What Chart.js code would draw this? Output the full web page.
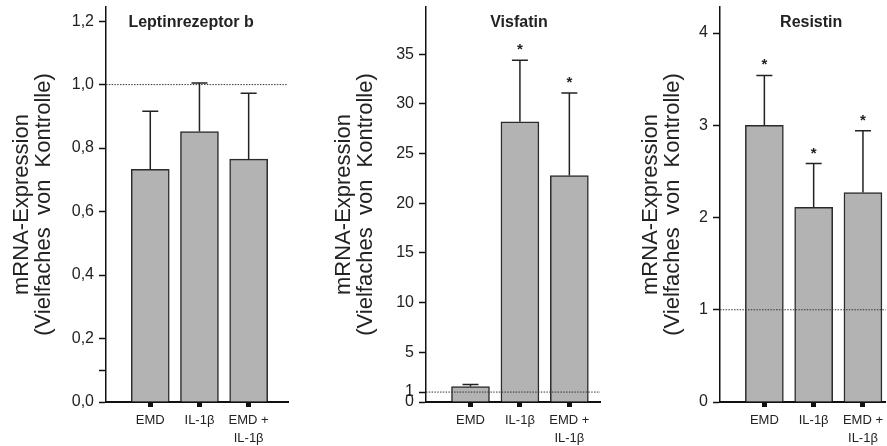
<!DOCTYPE html>
<html>
<head>
<meta charset="utf-8">
<script src="https://cdn.jsdelivr.net/npm/chart.js@4/dist/chart.umd.min.js"></script>
<style>
  html, body { margin: 0; padding: 0; background: #fff; }
  #wrap { position: relative; width: 887px; height: 446px; overflow: hidden; }
  canvas { position: absolute; top: 0; }
</style>
</head>
<body>
<div id="wrap">
  <canvas id="leptin" width="300" height="446" style="left:0px"></canvas>
  <canvas id="visfatin" width="288" height="446" style="left:322px"></canvas>
  <canvas id="resistin" width="258" height="446" style="left:629px"></canvas>
</div>
<script>
const FONT = "'Liberation Sans', Arial, sans-serif";

// x-Achse (gleich fuer alle drei Diagramme)
const categories = ["EMD", "IL-1β", ["EMD +", "IL-1β"]];
const yTitle = ["mRNA-Expression", "(Vielfaches  von  Kontrolle)"];

// Leptinrezeptor b
const leptinMeans = [0.733, 0.852, 0.765];
const leptinErrors = [0.183, 0.153, 0.208];
const leptinSig = [false, false, false];
const leptinTicks = [0, 0.1, 0.2, 0.4, 0.6, 0.8, 1.0, 1.2];
const leptinTickLabels = ["0,0", "", "0,2", "0,4", "0,6", "0,8", "1,0", "1,2"];

// Visfatin
const visfatinMeans = [1.55, 28.2, 22.8];
const visfatinErrors = [0.2, 6.2, 8.3];
const visfatinSig = [false, true, true];
const visfatinTicks = [0, 1, 5, 10, 15, 20, 25, 30, 35];
const visfatinTickLabels = ["0", "1", "5", "10", "15", "20", "25", "30", "35"];

// Resistin
const resistinMeans = [3.0, 2.11, 2.27];
const resistinErrors = [0.54, 0.475, 0.67];
const resistinSig = [true, true, true];
const resistinTicks = [0, 1, 2, 3, 4];
const resistinTickLabels = ["0", "1", "2", "3", "4"];

// Fehlerbalken, Sternchen, Kontroll-Linie und Titel
function panelPlugin(p) {
  return {
    id: "panelExtras",
    afterDatasetsDraw(chart) {
      const { ctx, chartArea, scales: { x, y } } = chart;
      ctx.save();

      // Kontrolle = 1
      const y1 = y.getPixelForValue(1);
      ctx.strokeStyle = "#333";
      ctx.lineWidth = 1;
      ctx.setLineDash([1.5, 1.3]);
      ctx.beginPath();
      ctx.moveTo(chartArea.left, y1);
      ctx.lineTo(chartArea.right, y1);
      ctx.stroke();
      ctx.setLineDash([]);

      ctx.strokeStyle = "#222";
      ctx.lineWidth = 1.5;
      ctx.fillStyle = "#222";
      ctx.font = "bold 15px " + FONT;
      ctx.textAlign = "center";
      ctx.textBaseline = "alphabetic";
      p.means.forEach((m, i) => {
        const px = x.getPixelForValue(i + 1);
        const base = y.getPixelForValue(m);
        const top = y.getPixelForValue(m + p.errors[i]);
        ctx.beginPath();
        ctx.moveTo(px, base);
        ctx.lineTo(px, top);
        ctx.moveTo(px - 8, top);
        ctx.lineTo(px + 8, top);
        ctx.stroke();
        if (p.sig[i]) ctx.fillText("*", px, top - 6);
      });

      ctx.font = "bold 16px " + FONT;
      ctx.textBaseline = "middle";
      ctx.fillText(p.title, x.getPixelForValue(p.titleX), chartArea.top + 16);
      ctx.restore();
    }
  };
}

function makePanel(id, p) {
  const ctx = document.getElementById(id).getContext("2d");
  return new Chart(ctx, {
    type: "bar",
    data: {
      datasets: [{
        data: p.means.map((m, i) => ({ x: i + 1, y: m })),
        backgroundColor: "#b3b3b3",
        borderColor: "#2b2b2b",
        borderWidth: 1.5,
        barThickness: 38
      }]
    },
    options: {
      responsive: false,
      animation: false,
      layout: { padding: { top: 7, right: p.padRight, left: 0, bottom: 0 } },
      plugins: {
        legend: { display: false },
        tooltip: { enabled: false }
      },
      scales: {
        x: {
          type: "linear",
          min: 0.1,
          max: p.xMax,
          offset: false,
          afterBuildTicks: s => { s.ticks = [1, 2, 3].map(v => ({ value: v })); },
          afterFit: s => { s.height = 44; },
          grid: {
            offset: false,
            drawOnChartArea: false,
            tickLength: 5,
            tickWidth: 5,
            tickColor: "#111"
          },
          border: { color: "#111", width: 2 },
          ticks: {
            autoSkip: false,
            maxRotation: 0,
            padding: 4,
            color: "#222",
            font: { family: FONT, size: 13, lineHeight: 1.4 },
            callback: v => categories[v - 1]
          }
        },
        y: {
          min: 0,
          max: p.yMax,
          afterBuildTicks: s => { s.ticks = p.ticks.map(v => ({ value: v })); },
          afterFit: s => {
            s.width = p.yWidth;
            s.paddingTop = 0;
            s.paddingBottom = 0;
          },
          grid: {
            drawOnChartArea: false,
            tickLength: 7,
            tickWidth: 1.5,
            tickColor: "#111"
          },
          border: { color: "#111", width: 1.5 },
          ticks: {
            autoSkip: false,
            padding: 5,
            color: "#222",
            font: { family: FONT, size: 16, lineHeight: 1 },
            callback: (v, i) => p.tickLabels[i]
          },
          title: {
            display: true,
            text: yTitle,
            color: "#222",
            font: { family: FONT, size: 22, lineHeight: 1 },
            padding: { top: 11, bottom: 0 }
          }
        }
      }
    },
    plugins: [panelPlugin(p)]
  });
}

makePanel("leptin", {
  means: leptinMeans, errors: leptinErrors, sig: leptinSig,
  ticks: leptinTicks, tickLabels: leptinTickLabels,
  title: "Leptinrezeptor b", titleX: 1.83,
  yMax: 1.2445, xMax: 3.8, yWidth: 106, padRight: 12
});

makePanel("visfatin", {
  means: visfatinMeans, errors: visfatinErrors, sig: visfatinSig,
  ticks: visfatinTicks, tickLabels: visfatinTickLabels,
  title: "Visfatin", titleX: 1.98,
  yMax: 39.76, xMax: 3.62, yWidth: 104, padRight: 10
});

makePanel("resistin", {
  means: resistinMeans, errors: resistinErrors, sig: resistinSig,
  ticks: resistinTicks, tickLabels: resistinTickLabels,
  title: "Resistin", titleX: 1.95,
  yMax: 4.282, xMax: 3.46, yWidth: 91, padRight: 0
});
</script>
</body>
</html>
